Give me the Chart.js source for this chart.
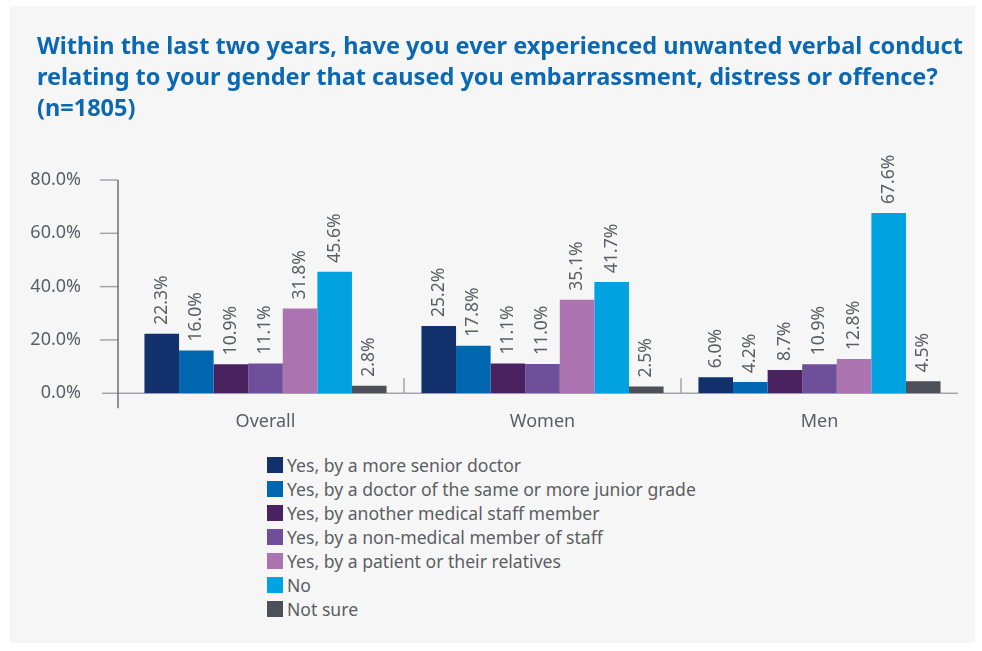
<!DOCTYPE html>
<html>
<head>
<meta charset="utf-8">
<script src="https://cdn.jsdelivr.net/npm/chart.js@4.4.1/dist/chart.umd.min.js"></script>
<style>
  body { margin: 0; background: #fff; font-family: "Noto Sans", sans-serif; }
  #panel { position: absolute; left: 10px; top: 6px; width: 965px; height: 637px; background: #f6f6f6; }
  #title { position: absolute; left: 27px; top: 24px; margin: 0; font-size: 23.5px; line-height: 31px; font-weight: bold; color: #0b68b2; white-space: nowrap; }
  #wrap { position: absolute; left: 0; top: 0; width: 965px; height: 436px; }
  #legend { position: absolute; left: 257px; top: 447px; list-style: none; margin: 0; padding: 0; }
  #legend li { display: flex; align-items: center; height: 24px; font-size: 17.6px; color: #5a5e63; white-space: nowrap; }
  #legend .box { display: inline-block; width: 16px; height: 16px; margin-right: 4px; }
</style>
</head>
<body>
<div id="panel">
  <div id="wrap"><canvas id="chart"></canvas></div>
  <h1 id="title">Within the last two years, have you ever experienced unwanted verbal conduct<br>relating to your gender that caused you embarrassment, distress or offence?<br>(n=1805)</h1>
  <ul id="legend"></ul>
</div>
<script>
// data
const categories = ['Overall', 'Women', 'Men'];
const seriesNames = [
  'Yes, by a more senior doctor',
  'Yes, by a doctor of the same or more junior grade',
  'Yes, by another medical staff member',
  'Yes, by a non-medical member of staff',
  'Yes, by a patient or their relatives',
  'No',
  'Not sure'
];
const seniorDoctor = [22.3, 25.2, 6.0];
const sameOrJunior = [16.0, 17.8, 4.2];
const otherMedical = [10.9, 11.1, 8.7];
const nonMedical = [11.1, 11.0, 10.9];
const patient = [31.8, 35.1, 12.8];
const no = [45.6, 41.7, 67.6];
const notSure = [2.8, 2.5, 4.5];
const yTicks = [0, 20, 40, 60, 80];

const seriesValues = [seniorDoctor, sameOrJunior, otherMedical, nonMedical, patient, no, notSure];
const colors = ['#12306b', '#0066b0', '#4a2260', '#6f4e9a', '#ab74b0', '#00a3e0', '#4d5059'];
const textGray = '#5a5e63';
const font = '"Noto Sans", sans-serif';

// axis lines, tick marks and category separators
const axisLines = {
  id: 'axisLines',
  beforeDatasetsDraw(chart) {
    const { ctx, chartArea, scales } = chart;
    const y = scales.y, x = scales.x;
    const axisX = chartArea.left - 9;
    ctx.save();
    // zero line
    ctx.strokeStyle = '#a3a5a8';
    ctx.lineWidth = 1.5;
    ctx.beginPath();
    ctx.moveTo(axisX - 16, chartArea.bottom);
    ctx.lineTo(chartArea.right, chartArea.bottom);
    ctx.stroke();
    // tick marks
    yTicks.forEach(v => {
      if (v === 0) return;
      const py = y.getPixelForValue(v);
      ctx.beginPath();
      ctx.moveTo(axisX - 18, py);
      ctx.lineTo(axisX, py);
      ctx.stroke();
    });
    // separators between categories
    for (let i = 0; i < categories.length - 1; i++) {
      const sx = (x.getPixelForValue(i) + x.getPixelForValue(i + 1)) / 2;
      ctx.beginPath();
      ctx.moveTo(sx, chartArea.bottom);
      ctx.lineTo(sx, chartArea.bottom - 15);
      ctx.stroke();
    }
    // vertical axis
    ctx.strokeStyle = '#6b6e72';
    ctx.beginPath();
    ctx.moveTo(axisX, y.getPixelForValue(80));
    ctx.lineTo(axisX, chartArea.bottom + 15);
    ctx.stroke();
    ctx.restore();
  }
};

// rotated value labels above bars
const barLabels = {
  id: 'barLabels',
  afterDatasetsDraw(chart) {
    const { ctx } = chart;
    ctx.save();
    ctx.fillStyle = textGray;
    ctx.font = '17.5px ' + font;
    ctx.textAlign = 'left';
    ctx.textBaseline = 'middle';
    chart.data.datasets.forEach((ds, i) => {
      chart.getDatasetMeta(i).data.forEach((bar, j) => {
        ctx.save();
        ctx.translate(bar.x, bar.y - 9);
        ctx.rotate(-Math.PI / 2);
        ctx.fillText(ds.data[j].toFixed(1) + '%', 0, 0);
        ctx.restore();
      });
    });
    ctx.restore();
  }
};

const chart = new Chart(document.getElementById('chart'), {
  type: 'bar',
  data: {
    labels: categories,
    datasets: seriesNames.map((name, i) => ({
      label: name,
      data: seriesValues[i],
      backgroundColor: colors[i],
      categoryPercentage: 0.874,
      barPercentage: 1
    }))
  },
  options: {
    responsive: true,
    maintainAspectRatio: false,
    animation: false,
    layout: { padding: { left: 10, right: 17, top: 174, bottom: 0 } },
    plugins: {
      legend: { display: false },
      tooltip: { enabled: false }
    },
    scales: {
      x: {
        grid: { display: false },
        border: { display: false },
        ticks: { color: textGray, font: { family: font, size: 18 }, padding: 10 },
        afterFit: s => { s.height = 40; }
      },
      y: {
        min: 0,
        max: 80,
        grid: { display: false },
        border: { display: false },
        afterBuildTicks: s => { s.ticks = yTicks.map(v => ({ value: v })); },
        ticks: {
          color: textGray,
          font: { family: font, size: 18 },
          padding: 38,
          callback: v => v.toFixed(1) + '%'
        },
        afterFit: s => { s.width = 107; }
      }
    }
  },
  plugins: [axisLines, barLabels]
});

// legend list built from the chart's datasets
const legend = document.getElementById('legend');
chart.data.datasets.forEach(ds => {
  const li = document.createElement('li');
  const box = document.createElement('span');
  box.className = 'box';
  box.style.background = ds.backgroundColor;
  li.appendChild(box);
  li.appendChild(document.createTextNode(ds.label));
  legend.appendChild(li);
});
</script>
</body>
</html>
